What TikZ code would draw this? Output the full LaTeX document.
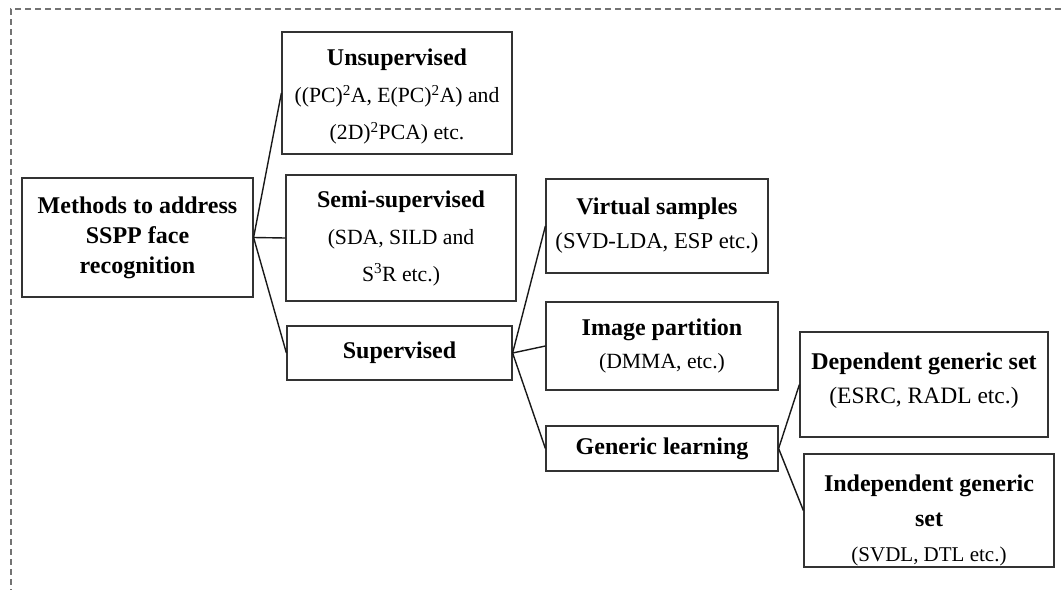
\documentclass[tikz,border=0pt]{standalone}
\usepackage{fontspec}
\setmainfont{Liberation Serif}
\newcommand{\smalltxt}{\fontsize{21.7}{35}\selectfont}
\begin{document}
\begin{tikzpicture}[
  x=1pt, y=-1pt,
  box/.style={rectangle, draw=black!80, line width=1.2pt, align=center, inner sep=0pt, font=\fontsize{24}{#1}\selectfont},
  box/.default=34,
  link/.style={draw=black!90, line width=1.4pt},
  frame/.style={draw=black!55, line width=1.4pt, dash pattern=on 6pt off 4pt}
]
\useasboundingbox (0,0) rectangle (1061,590);

% Dashed frame (top and left edges)
\draw[frame] (1061,9) -- (11,9) -- (11,590);

% Root
\node[box=30, minimum width=231pt, minimum height=119pt] (root) at (137.5,237.5) {\textbf{Methods to address}\\\textbf{SSPP face}\\\textbf{recognition}};

% First level
\node[box=37, minimum width=230pt, minimum height=122pt] (unsup) at (397,93) {\mbox{}\\[-13pt]\textbf{Unsupervised}\\{\smalltxt((PC)\textsuperscript{2}A, E(PC)\textsuperscript{2}A) and}\\{\smalltxt(2D)\textsuperscript{2}PCA) etc.}};
\node[box=37, minimum width=230pt, minimum height=126pt] (semi) at (401,238) {\textbf{Semi-supervised}\\{\smalltxt(SDA, SILD and}\\{\smalltxt S\textsuperscript{3}R etc.)}};
\node[box, minimum width=225pt, minimum height=54pt] (sup) at (399.5,353) {\textbf{Supervised}};

% Second level
\node[box=34, minimum width=222pt, minimum height=94pt] (virt) at (657,226) {\textbf{Virtual samples}\\{\fontsize{22.7}{34}\selectfont(SVD-LDA, ESP etc.)}};
\node[box=33, minimum width=232pt, minimum height=88pt] (part) at (662,346) {\textbf{Image partition}\\{\fontsize{21.7}{33}\selectfont(DMMA, etc.)}};
\node[box, minimum width=232pt, minimum height=45pt] (gen) at (662,448.5) {\textbf{Generic learning}};

% Third level
\node[box=34, minimum width=248pt, minimum height=105pt] (dep) at (924,384.5) {\textbf{Dependent generic set}\\{\fontsize{23.5}{34}\selectfont(ESRC, RADL etc.)}\\[-22pt]\mbox{}};
\node[box=35, minimum width=250pt, minimum height=113pt] (indep) at (929,510.5) {\mbox{}\\[2pt]\textbf{Independent generic}\\\textbf{set}\\{\fontsize{21}{35}\selectfont(SVDL, DTL etc.)}};

% Connectors
\draw[link] (root.east) -- (unsup.west);
\draw[link] (root.east) -- (semi.west);
\draw[link] (root.east) -- (sup.west);
\draw[link] (sup.east) -- (virt.west);
\draw[link] (sup.east) -- (part.west);
\draw[link] (sup.east) -- (gen.west);
\draw[link] (gen.east) -- (dep.west);
\draw[link] (gen.east) -- (indep.west);
\end{tikzpicture}
\end{document}
